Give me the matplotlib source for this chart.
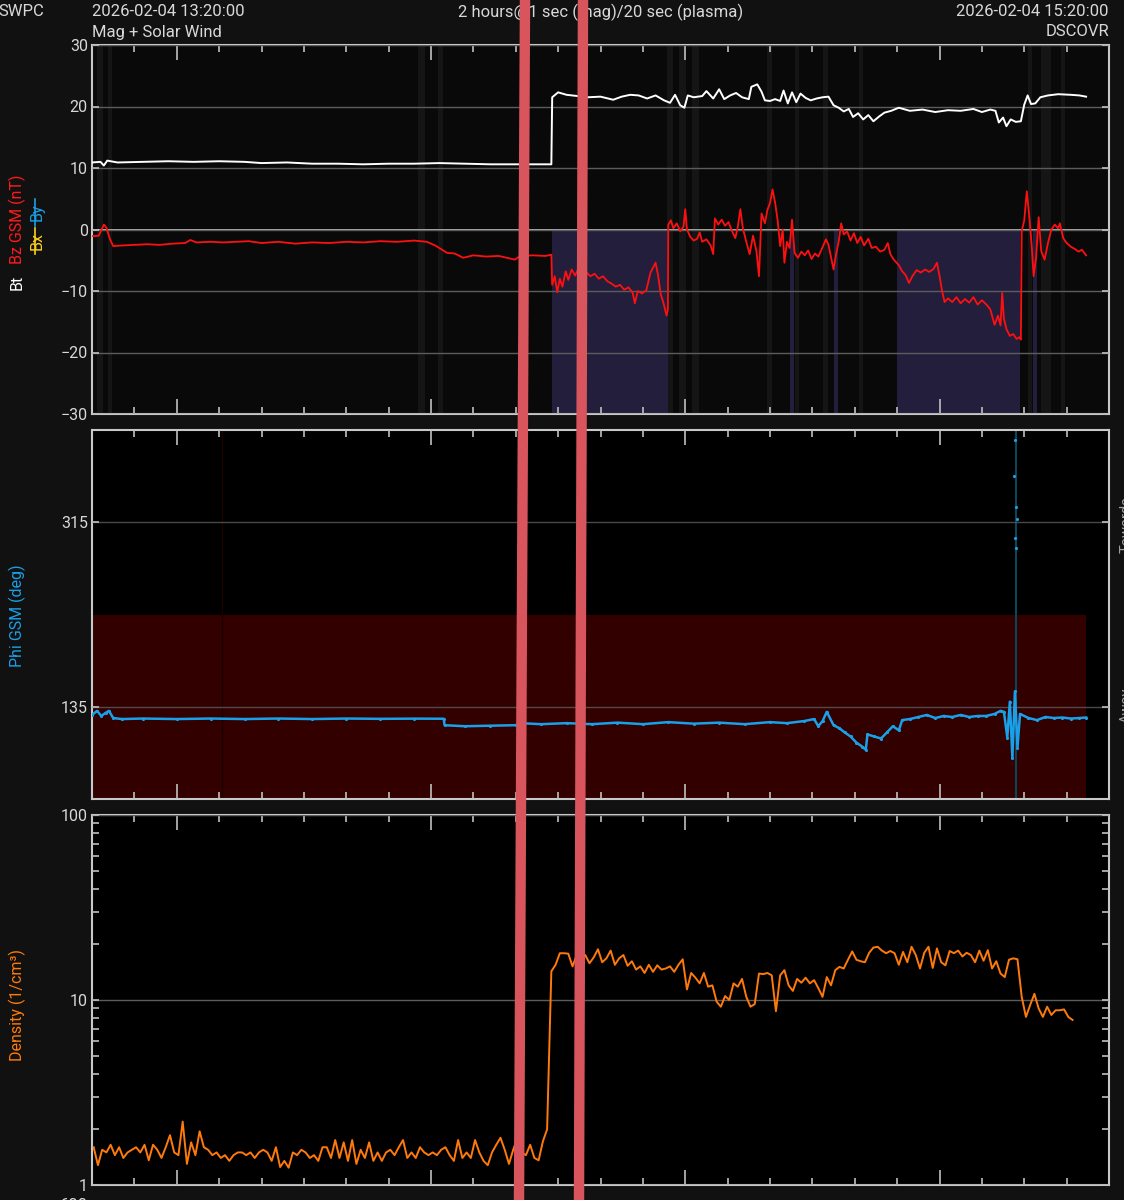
import numpy as np
import matplotlib
matplotlib.use("Agg")
import matplotlib.pyplot as plt
from matplotlib.lines import Line2D
from matplotlib.ticker import FixedLocator, NullFormatter, LogLocator

plt.rcParams['font.family'] = ['Roboto', 'DejaVu Sans']

# Datos (minutos desde 13:20)
# ==========================
bt_t = [0, 1.0, 1.4, 1.8, 3, 6, 9, 12, 15, 18, 20, 23, 26, 29, 32, 35, 38, 41, 44, 47, 50, 54.2,
        54.3, 55, 56, 57.3, 58.5, 60, 61.5, 62.5, 63.5, 64.5, 65.5, 66.5, 67.5, 68.2, 68.8, 69.4,
        69.9, 70.3, 71, 72, 72.5, 73.3, 74, 74.6, 75.3, 76, 76.7, 77.5, 77.8, 78.5, 79, 79.4, 80,
        80.6, 81.2, 81.6, 82.1, 82.6, 83.1, 83.6, 84.2, 84.8, 85.5, 86.2, 86.9, 87.5, 88.1, 88.7,
        89.3, 89.8, 90.4, 91.0, 91.6, 92.2, 92.9, 93.5, 94.3, 95.2, 96.5, 98, 99.5, 101, 102.5,
        104, 105, 106, 106.6, 107.0, 107.5, 107.9, 108.4, 109, 109.6, 110.0, 110.4, 110.8, 111.3,
        111.9, 112.8, 114, 115.5, 116.5, 117.3]
bt_v = [10.9, 11.0, 10.4, 11.2, 10.9, 11.0, 11.1, 11.0, 11.1, 11.0, 10.8, 10.9, 10.7, 10.7, 10.6,
        10.7, 10.7, 10.8, 10.7, 10.6, 10.6, 10.6,
        21.5, 22.3, 21.9, 21.7, 21.5, 21.6, 21.1, 21.6, 21.9, 21.8, 21.3, 21.8, 21.0, 20.6, 21.9, 20.2,
        19.8, 21.8, 21.5, 21.7, 22.5, 21.3, 22.8, 21.2, 21.8, 22.2, 21.5, 21.2, 23.2, 23.6, 22.4, 21.0, 20.9,
        21.2, 20.9, 22.6, 20.5, 22.3, 20.7, 22.1, 21.4, 21.0, 21.3, 21.5, 21.6, 20.2, 19.8, 19.2,
        19.6, 18.3, 18.9, 17.9, 18.6, 17.6, 18.4, 19.0, 19.3, 19.8, 19.3, 19.5, 19.1, 19.4, 19.3,
        19.6, 19.1, 19.5, 19.3, 17.4, 18.2, 16.8, 17.9, 17.5, 17.6, 20.3, 21.8, 20.4, 20.5,
        21.5, 21.8, 22.0, 21.9, 21.8, 21.6]

bz_t = [0, 0.8, 1.4, 1.7, 2.1, 2.5, 3.5, 5, 6.5, 8, 9.5, 11, 11.6, 12.3, 14, 15.5, 17, 18.5, 20, 22,
        24, 26, 28, 30, 32, 34, 36, 38, 39.5, 40.5, 41.9, 42.8, 43.8, 45, 46.5, 48, 49.9, 50.5, 52,
        53.5, 54.2,
        54.3, 54.6, 54.9, 55.2, 55.5, 55.9, 56.2, 56.6, 57.0, 57.3, 57.8, 58.3, 58.8, 59.3, 59.8,
        60.3, 60.8, 61.3, 61.8, 62.3, 62.8, 63.3, 63.8, 64.05, 64.4, 64.9, 65.4, 65.9, 66.2, 66.5,
        66.8, 67.1, 67.4, 67.8, 67.95, 68.0, 68.3, 68.6, 69.0, 69.4, 69.8, 70.0, 70.2, 70.6, 71.0,
        71.4, 71.7, 72.0, 72.5, 73.0, 73.3, 73.5, 73.9, 74.3, 74.7, 75.1, 75.5, 75.9, 76.2, 76.5,
        76.8, 77.2, 77.6, 78.0, 78.4, 78.7, 79.0, 79.4, 79.7, 80.0, 80.3, 80.6, 80.9, 81.2, 81.5,
        81.7, 82.0, 82.3, 82.6, 82.9, 83.3, 83.7, 84.1, 84.5, 84.9, 85.3, 85.7, 86.1, 86.6, 86.9,
        87.2, 87.5, 87.8, 88.1, 88.4, 88.7, 89.1, 89.5, 89.9, 90.3, 90.7, 91.1, 91.6, 92.0, 92.5,
        93.0, 93.5, 93.9, 94.2, 94.6, 95.2, 95.6, 96.0, 96.4, 96.8, 97.3, 97.8, 98.3, 98.8, 99.3,
        99.7, 100.0, 100.3, 100.6, 101.0, 101.5, 102.0, 102.5, 103.0, 103.5, 104.0, 104.5, 105.0,
        105.6, 106.0, 106.5, 106.9, 107.2, 107.4, 107.6, 107.9, 108.3, 108.7, 109.1, 109.4, 109.6,
        109.7, 110.0, 110.3, 110.6, 110.9, 111.1, 111.4, 111.7, 112.0, 112.4, 112.8, 113.2, 113.6,
        114.0, 114.2, 114.6, 115.0, 115.5, 116.0, 116.4, 116.8, 117.3]
bz_v = [-1.1, -1.0, 0.8, 0.3, -1.5, -2.7, -2.6, -2.5, -2.4, -2.5, -2.3, -2.2, -1.7, -2.1, -2.0, -2.1,
        -2.0, -1.9, -2.2, -2.0, -2.3, -2.1, -2.2, -2.0, -2.1, -1.9, -2.0, -1.8, -2.0, -2.6, -3.8, -3.9,
        -4.6, -4.2, -4.4, -4.3, -4.9, -4.3, -4.2, -4.3, -4.1,
        -9.0, -7.6, -10.2, -8.0, -9.3, -6.8, -8.2, -6.5, -7.5, -6.6, -7.4, -6.9, -7.6, -7.2, -8.0,
        -7.6, -8.4, -8.8, -9.3, -9.0, -9.8, -9.4, -10.3, -12.0, -10.0, -10.4, -9.9, -7.0, -6.2, -5.4,
        -7.5, -10.5, -11.8, -14.0, -13.0, 0.8, 1.5, 0.2, 1.0, -0.3, 0.5, 3.3, 0.0, -1.2, -1.8,
        -1.5, -0.5, -2.0, -1.6, -2.6, -4.0, 1.8, 0.8, 1.6, 0.6, 1.2, -0.2, -1.4, 0.4, 3.3,
        0.2, -2.0, -4.0, -1.0, -3.5, -7.6, 2.6, 1.0, 3.2, 4.3, 6.5, 4.4, 1.5, -2.7, 0.0,
        -5.4, -2.0, -3.0, 1.6, -3.8, -4.6, -3.6, -4.2, -3.4, -4.8, -3.9, -4.4, -3.2, -1.6, -2.5,
        -4.5, -6.5, -4.0, -2.0, 1.0, -0.8, -0.3, -1.8, -0.6, -2.2, -1.2, -2.6, -1.5, -3.0, -2.8,
        -3.6, -3.3, -2.2, -4.0, -4.9, -5.8, -6.8, -7.4, -8.7, -7.6, -6.6, -7.0, -6.5, -6.9, -6.4,
        -5.4, -7.5, -10.0, -11.8, -11.2, -11.8, -11.0, -12.0, -11.3, -11.9, -11.0, -12.2, -11.5,
        -12.3, -13.0, -15.5, -14.0, -15.6, -10.3, -14.5, -16.2, -17.3, -17.0, -17.8, -17.5, -17.9,
        -0.3, 1.5, 6.2, 2.0, -3.0, -7.6, -4.5, 2.0, -3.5, -4.9, -2.2, 0.0, 0.8,
        0.2, 1.0, -1.4, -2.2, -2.8, -3.2, -3.6, -3.3, -4.2]

# intervalos con Bz sur (sombreado morado) y franjas de calidad
bz_south = [(54.3, 68.0), (82.4, 82.8), (87.6, 88.0), (95.0, 109.5), (111.0, 111.5)]
stripes = [(0.6, 1.3), (1.9, 2.4), (38.5, 39.3), (40.8, 41.4), (67.8, 68.6), (69.3, 70.1),
           (70.8, 71.6), (79.6, 80.2), (82.9, 83.4), (86.2, 86.9), (90.5, 91.0), (110.5, 110.9),
           (112.0, 113.2), (114.3, 114.8)]

phi_t = [0, 0.6, 1.1, 1.6, 2.0, 2.5, 3.5, 6, 10, 14, 18, 22, 26, 30, 34, 38, 41.5, 41.6, 44, 47,
         50, 50.5, 53, 56, 59, 62, 65, 68, 71, 74, 77, 80, 82, 84, 85.2, 85.7, 86.2, 86.7, 87.5,
         88.2, 88.8, 89.5, 90.2, 90.9, 91.3, 91.5, 92.3, 93.1, 93.8, 94.5, 95.2, 95.6, 96.5, 97.5,
         98.5, 99.5, 100.5, 101.5, 102.5, 103.5, 104.5, 105.5, 106.5, 107.2, 107.6, 108.0, 108.3,
         108.6, 108.9, 109.2, 109.5, 110.5, 111.5, 112.5, 113.5, 114.5, 115.5, 116.5, 117.3]
phi_v = [127, 131, 126, 129, 131, 124, 123, 123.5, 123, 123.5, 123, 123.5, 123, 123.5, 123.2, 123.4,
         123.3, 117, 116, 116.5, 117, 119, 118, 119, 118, 119.5, 118, 120, 118.5, 119.5, 118, 120,
         119, 121, 123, 116, 121, 130, 117, 114, 110, 106, 100, 96, 93, 108, 106, 104, 110, 116,
         112, 122, 123, 125, 127, 124, 126, 125, 127, 125, 126, 126, 128, 131, 130, 105, 140, 85,
         150, 95, 128, 124, 122, 125, 124, 124.5, 123.5, 124, 124.5]
phi_spike_t = [108.8, 108.9, 108.95, 109.0, 109.05, 109.1]
phi_spike_v = [360, 395, 300, 330, 290, 318]
away_band = (45, 225)

dens_t = 0.2 + 0.5 * np.arange(232)
dens_v = [1.6, 1.28, 1.55, 1.5, 1.65, 1.45, 1.6, 1.4, 1.5, 1.55,
          1.6, 1.5, 1.65, 1.36, 1.65, 1.55, 1.4, 1.6, 1.86, 1.5,
          1.45, 2.2, 1.3, 1.7, 1.45, 1.95, 1.6, 1.55, 1.45, 1.5,
          1.4, 1.45, 1.35, 1.45, 1.5, 1.5, 1.45, 1.5, 1.4, 1.5,
          1.55, 1.5, 1.35, 1.6, 1.25, 1.35, 1.24, 1.5, 1.45, 1.55,
          1.5, 1.4, 1.45, 1.35, 1.6, 1.6, 1.4, 1.75, 1.4, 1.7,
          1.35, 1.75, 1.3, 1.55, 1.4, 1.7, 1.35, 1.5, 1.35, 1.5,
          1.55, 1.45, 1.6, 1.75, 1.4, 1.5, 1.4, 1.6, 1.5, 1.45,
          1.5, 1.45, 1.55, 1.6, 1.45, 1.35, 1.75, 1.4, 1.5, 1.4,
          1.75, 1.5, 1.35, 1.28, 1.5, 1.65, 1.8, 1.55, 1.3, 1.55,
          1.8, 1.5, 1.45, 1.65, 1.4, 1.36, 1.72, 2.0, 14.3, 15.5,
          17.9, 17.9, 17.8, 15.2, 17.5, 16.5, 17.5, 15.8, 17.0, 18.8,
          16.0, 16.8, 18.5, 15.5, 16.8, 17.5, 15.3, 16.2, 14.6, 15.2,
          14.0, 15.5, 14.2, 15.4, 14.6, 14.8, 15.2, 14.2, 15.5, 16.6,
          11.4, 14.0, 13.2, 12.3, 14.0, 11.8, 12.0, 9.8, 9.2, 10.5,
          10.0, 12.3, 11.8, 13.0, 10.4, 9.2, 9.5, 13.9, 13.8, 14.0,
          13.6, 8.7, 13.6, 14.5, 12.0, 11.2, 13.0, 12.4, 13.2, 12.3,
          12.8, 11.6, 10.4, 13.3, 12.0, 14.5, 15.1, 14.8, 16.5, 18.3,
          16.5, 16.2, 16.0, 18.0, 19.2, 19.4, 18.5, 17.9, 18.4, 17.9,
          15.5, 18.2, 16.0, 19.4, 17.5, 14.8, 18.0, 19.4, 14.9, 19.0,
          16.0, 15.4, 18.4, 17.9, 18.5, 17.2, 18.0, 17.5, 16.0, 18.5,
          16.3, 18.6, 14.8, 16.2, 13.9, 13.3, 16.5, 16.8, 16.6, 10.4,
          8.1, 9.4, 10.8, 9.0, 8.1, 9.2, 8.3, 8.8, 8.8, 8.9, 8.1, 7.8]

# Figura
# ======
W, H = 1124, 1200
BG = '#111111'
TXT = '#d8d8d8'
fig = plt.figure(figsize=(W / 100, H / 100), dpi=100, facecolor=BG)

def px(x, y):
    return x / W, 1 - y / H

def panel(top, bottom, face):
    ax = fig.add_axes([92 / W, 1 - bottom / H, 1017 / W, (bottom - top) / H], facecolor=face)
    ax.set_xlim(0, 120)
    ax.xaxis.set_major_locator(FixedLocator([10, 40, 70, 100]))
    ax.xaxis.set_minor_locator(FixedLocator(np.arange(5, 120, 5)))
    ax.tick_params(axis='x', which='both', direction='in', top=True, bottom=True,
                   labelbottom=False, color='#c0c0c0', width=1.2)
    ax.tick_params(axis='x', which='major', length=11)
    ax.tick_params(axis='x', which='minor', length=5)
    ax.tick_params(axis='y', which='both', direction='in', left=True, right=True,
                   color='#c0c0c0', labelcolor=TXT, labelsize=11.5, length=5, width=1.2, pad=3)
    for s in ax.spines.values():
        s.set_color('#c8c8c8')
        s.set_linewidth(1.5)
    ax.grid(axis='y', which='major', color='#5c5c5c', lw=1, zorder=1)
    ax.set_axisbelow(False)
    return ax

# Panel 1: Bt / Bz
ax1 = panel(45, 414, '#090909')
for a, b in stripes:
    ax1.axvspan(a, b, color='#151515', lw=0, zorder=0)
for a, b in bz_south:
    ax1.fill_between([a, b], -30, 0, color='#221e3c', lw=0, zorder=0.5)
ax1.set_ylim(-30, 30)
ax1.set_yticks([-30, -20, -10, 0, 10, 20, 30])
ax1.axhline(0, color='#c0c0c0', lw=1.3, zorder=1.5)
ax1.plot(bt_t, bt_v, color='white', lw=1.4, zorder=3)
ax1.plot(bz_t, bz_v, color='#ff1010', lw=1.3, zorder=3)

# Panel 2: Phi
ax2 = panel(430, 799, 'black')
ax2.set_ylim(45, 405)
ax2.set_yticks([135, 315])
ax2.fill_between([0, 117.3], away_band[0], away_band[1], color='#330000', lw=0, zorder=0)
ax2.axvline(15.3, color='#1c0000', lw=1, zorder=0.5)
ax2.axvline(109.0, color='#0c4656', lw=1.5, zorder=0.5)
for gl in ax2.get_ygridlines():
    gl.set_alpha(0.8)
ax2.plot(phi_t, phi_v, color='#1aa0e8', lw=1.8, marker='.', ms=2.5, zorder=3)
ax2.plot(phi_spike_t, phi_spike_v, ls='none', marker='.', ms=2.5, color='#1aa0e8', zorder=3)

# Panel 3: densidad
ax3 = panel(815, 1185, 'black')
ax3.set_yscale('log')
ax3.set_ylim(1, 100)
ax3.yaxis.set_major_locator(FixedLocator([1, 10, 100]))
ax3.set_yticklabels(['1', '10', '100'])
ax3.yaxis.set_minor_locator(LogLocator(subs=np.arange(2, 10)))
ax3.yaxis.set_minor_formatter(NullFormatter())
ax3.tick_params(axis='y', which='minor', direction='in', left=True, right=True,
                length=5, color='#c0c0c0', width=1.2)
ax3.grid(axis='y', which='major', color='#5c5c5c', lw=1)
ax3.plot(dens_t, dens_v, color='#ff7a0a', lw=1.4, zorder=3)

# Textos
# ======
fs = 12
lfs = 11.5
fig.text(*px(-2, 12), 'SWPC', color=TXT, fontsize=fs, va='center', ha='left')
fig.text(*px(92, 12), '2026-02-04 13:20:00', color=TXT, fontsize=fs, va='center', ha='left')
fig.text(*px(92, 32), 'Mag + Solar Wind', color=TXT, fontsize=fs, va='center', ha='left')
fig.text(*px(601, 12), '2 hours@1 sec (mag)/20 sec (plasma)', color=TXT, fontsize=fs,
         va='center', ha='center')
fig.text(*px(1109, 12), '2026-02-04 15:20:00', color=TXT, fontsize=fs, va='center', ha='right')
fig.text(*px(1109, 32), 'DSCOVR', color=TXT, fontsize=fs, va='center', ha='right')

fig.text(*px(17, 282), 'Bt', color='white', fontsize=lfs, rotation=90, va='center', ha='center')
fig.text(*px(17, 219), 'Bz GSM (nT)', color='#ff1a1a', fontsize=lfs, rotation=90,
         va='center', ha='center')
fig.text(*px(37, 241), 'Bx', color='#ffd21a', fontsize=lfs, rotation=90, va='center', ha='center')
fig.text(*px(37, 212), 'By', color='#1aa0e8', fontsize=lfs, rotation=90, va='center', ha='center')
fig.add_artist(Line2D([35 / W, 35 / W], [1 - 228 / H, 1 - 254 / H], color='#ffd21a', lw=1.2))
fig.add_artist(Line2D([35 / W, 35 / W], [1 - 199 / H, 1 - 226 / H], color='#1aa0e8', lw=1.2))
fig.text(*px(17, 616), 'Phi GSM (deg)', color='#1aa0e8', fontsize=lfs, rotation=90,
         va='center', ha='center')
fig.text(*px(17, 1005), 'Density (1/cm³)', color='#ff7a0a', fontsize=lfs, rotation=90,
         va='center', ha='center')
# etiquetas del borde derecho, cortadas por el borde como en la captura
fig.text(*px(1127, 525), 'Towards', color='#a0a0a0', fontsize=10.5, rotation=90,
         va='center', ha='center')
fig.text(*px(1127, 705), 'Away', color='#a0a0a0', fontsize=10.5, rotation=90,
         va='center', ha='center')
fig.text(*px(88, 1205), '600', color=TXT, fontsize=fs, va='center', ha='right')

# Líneas rojas marcadas sobre la captura
for x_top, x_bot in [(525, 519), (583, 579)]:
    fig.add_artist(Line2D([x_top / W, x_bot / W], [1, 0], color='#d9555d', lw=7.5,
                          solid_capstyle='butt', zorder=10))

fig.savefig('out.png', dpi=100, facecolor=BG)
